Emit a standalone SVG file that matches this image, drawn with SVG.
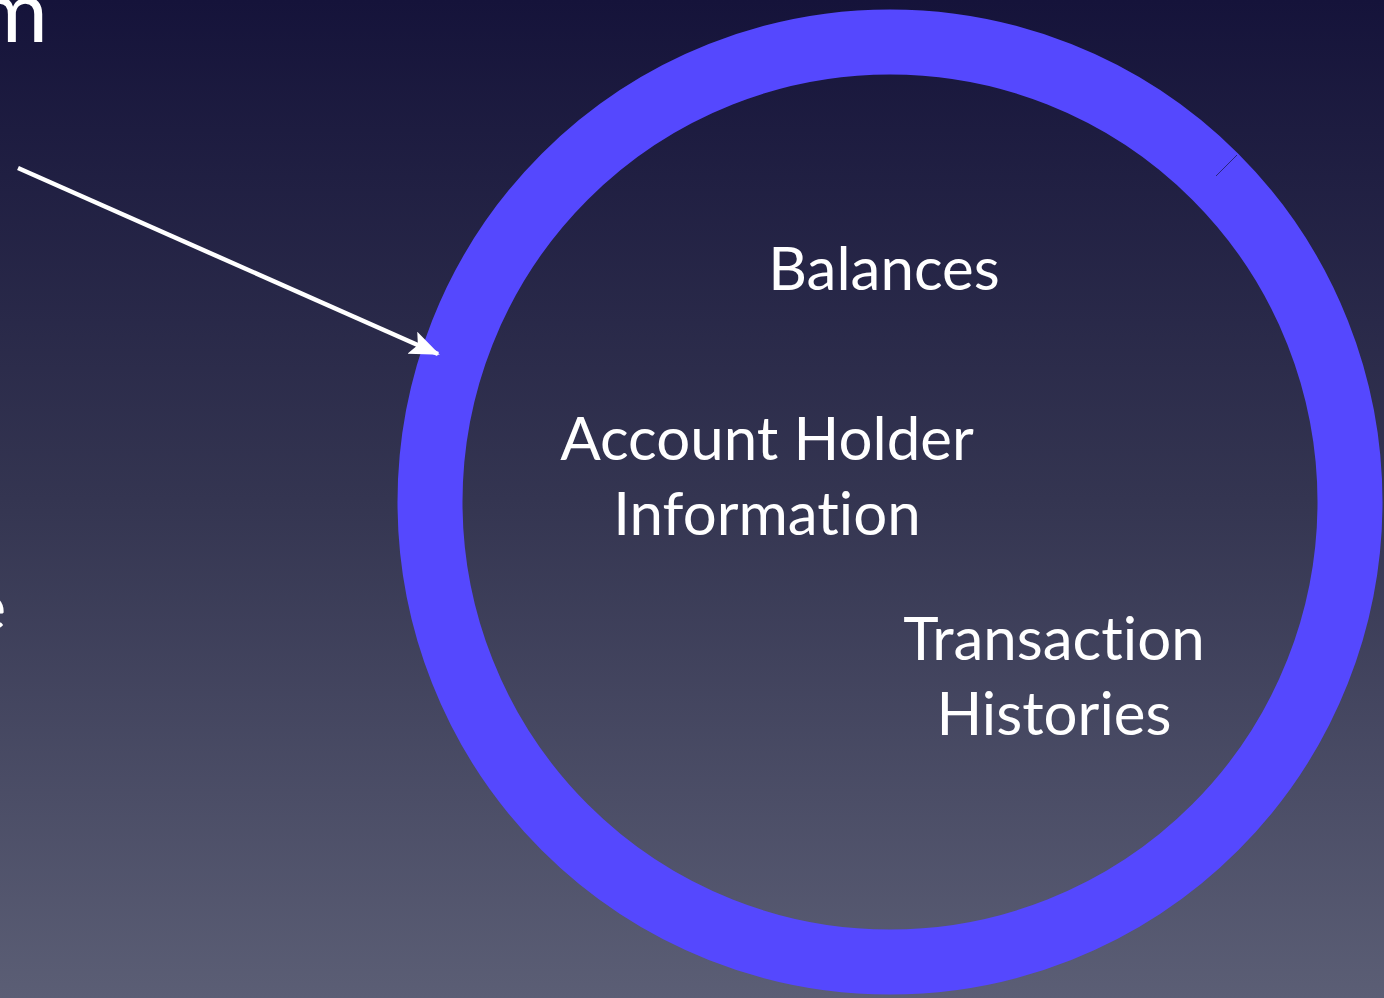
<svg xmlns="http://www.w3.org/2000/svg" width="1384" height="998" viewBox="0 0 1384 998">
<defs>
<linearGradient id="bg" x1="0" y1="0" x2="0" y2="1">
<stop offset="0" stop-color="#15133a"/>
<stop offset="0.5" stop-color="#343551"/>
<stop offset="1" stop-color="#5b5e75"/>
</linearGradient>
<marker id="ah2" viewBox="0 0 30 24" refX="28" refY="12" markerWidth="30" markerHeight="24" orient="auto" markerUnits="userSpaceOnUse">
<path d="M0,0 L30,12 L0,24 L6,12 Z" fill="#ffffff"/>
</marker>
</defs>
<style>
.lbl{font-family:"Lato","Open Sans","Liberation Sans",sans-serif;fill:#ffffff;font-size:60px;text-anchor:middle;font-variant-ligatures:none}
.edge{font-family:"Lato","Open Sans","Liberation Sans",sans-serif;fill:#ffffff;text-anchor:end}
</style>
<rect x="0" y="0" width="1384" height="998" fill="url(#bg)"/>
<text class="edge" x="48" y="42" font-size="88">m</text>
<text class="edge" x="6" y="630" font-size="64">e</text>
<g id="ring">
<circle cx="890" cy="502" r="460" fill="none" stroke="#5548fe" stroke-width="65"/>
<line x1="1216" y1="176" x2="1237" y2="155" stroke="#2a2680" stroke-width="1"/>
</g>
<g id="connectors">
<line x1="18" y1="168" x2="438" y2="354" stroke="#ffffff" stroke-width="4.5" marker-end="url(#ah2)"/>
</g>
<g id="balances"><text class="lbl" x="884" y="290">Balances</text></g>
<g id="account-holder"><text class="lbl" x="767" y="460">Account Holder</text><text class="lbl" x="767" y="535">Information</text></g>
<g id="transaction-histories"><text class="lbl" x="1054" y="660">Transaction</text><text class="lbl" x="1054" y="735">Histories</text></g>
</svg>
